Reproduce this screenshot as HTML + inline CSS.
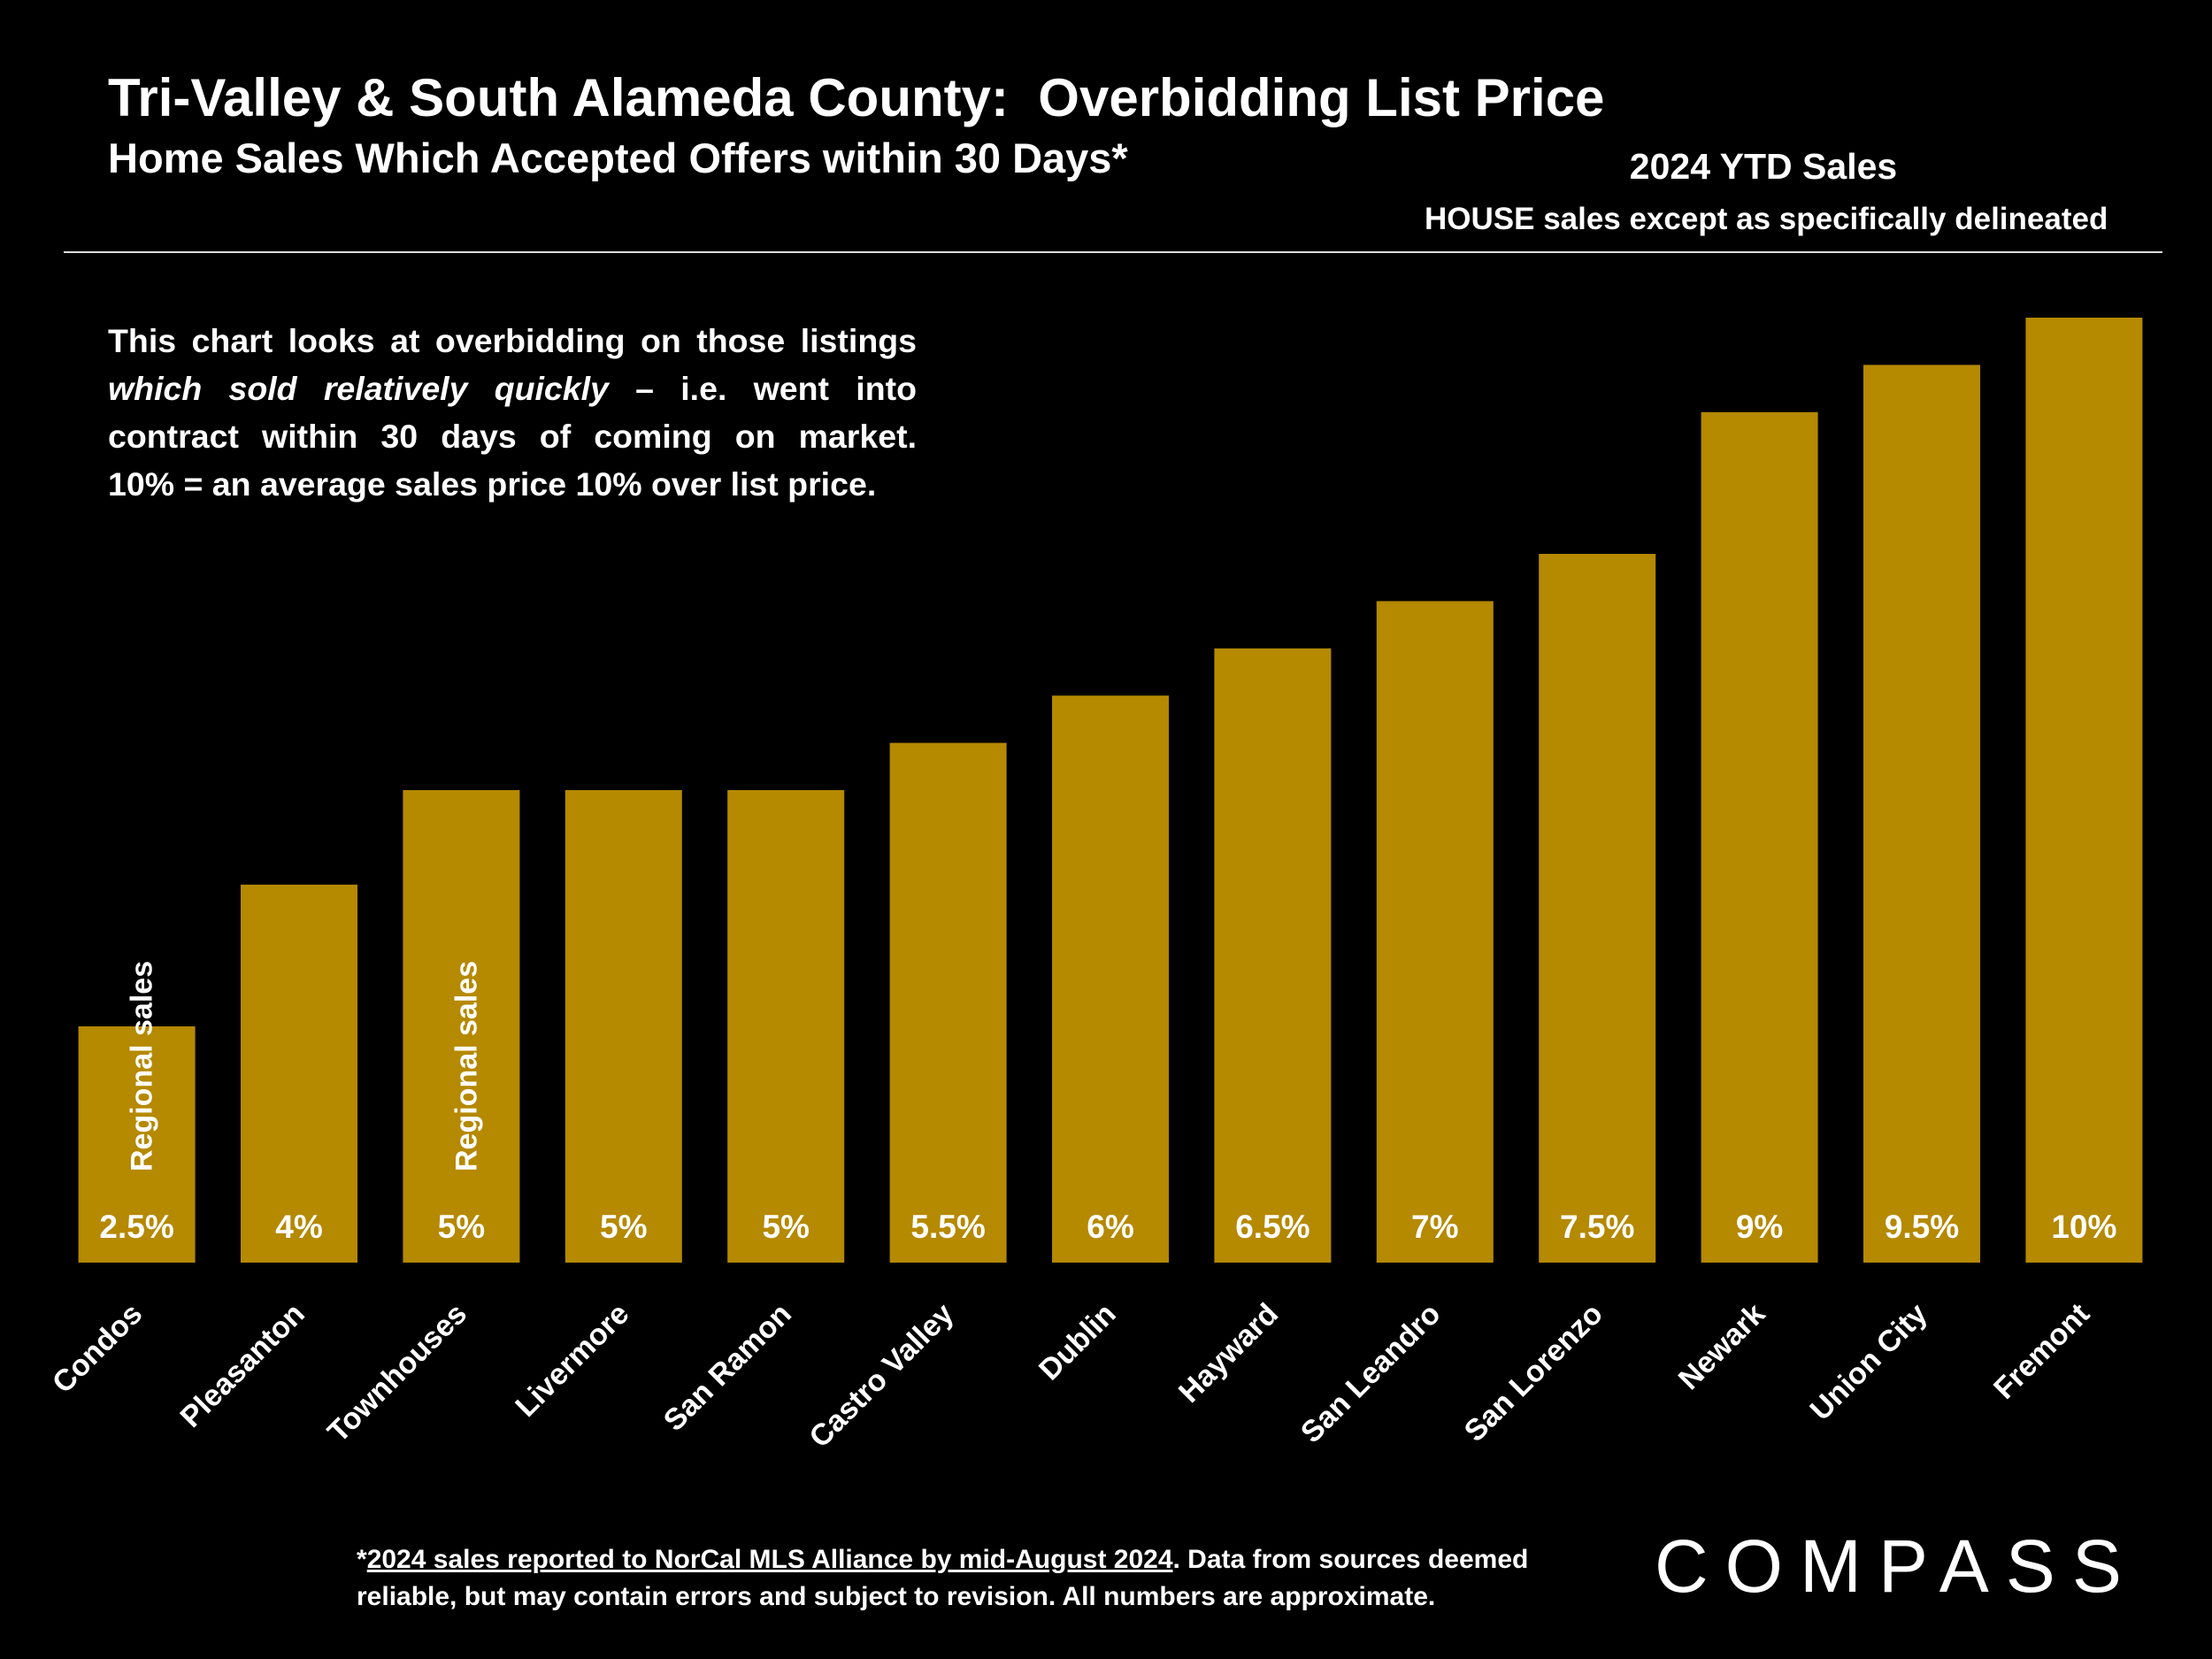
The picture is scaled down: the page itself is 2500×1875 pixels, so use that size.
<!DOCTYPE html>
<html><head><meta charset="utf-8"><style>
html,body{margin:0;padding:0;background:#000;}
body{width:2500px;height:1875px;overflow:hidden;position:relative;font-family:"Liberation Sans",sans-serif;color:#fff;}
.t{position:absolute;font-weight:bold;white-space:nowrap;}
.jl{text-align:justify;text-align-last:justify;white-space:nowrap;}
</style></head><body>
<div class="t" style="left:122px;top:76px;font-size:60px;">Tri-Valley &amp; South Alameda County:&nbsp; Overbidding List Price</div>
<div class="t" style="left:122px;top:151px;font-size:47px;">Home Sales Which Accepted Offers within 30 Days*</div>
<div class="t" style="left:1793px;width:400px;text-align:center;top:165px;font-size:41px;">2024 YTD Sales</div>
<div class="t" style="left:1610px;top:228px;font-size:35px;">HOUSE sales except as specifically delineated</div>
<div style="position:absolute;left:72px;top:284px;width:2372px;height:2px;background:#ddd;"></div>
<div style="position:absolute;left:122px;top:358px;width:914px;font-size:37.5px;line-height:54px;font-weight:bold;">
<div class="jl">This chart looks at overbidding on those listings</div>
<div class="jl"><i>which sold relatively quickly</i> – i.e. went into</div>
<div class="jl">contract within 30 days of coming on market.</div>
<div style="white-space:nowrap;">10% = an average sales price 10% over list price.</div>
</div>
<svg id="chart" width="2500" height="1875" style="position:absolute;left:0;top:0;"></svg>
<div style="position:absolute;left:403px;top:1742px;font-size:30px;line-height:42px;font-weight:bold;">*<u>2024 sales reported to NorCal MLS Alliance by mid-August 2024</u>. Data from sources deemed<br>reliable, but may contain errors and subject to revision. All numbers are approximate.</div>
<div style="position:absolute;left:1870px;top:1722px;font-size:84px;letter-spacing:19px;font-weight:normal;">COMPASS</div>
<script>
const categories=["Condos","Pleasanton","Townhouses","Livermore","San Ramon","Castro Valley","Dublin","Hayward","San Leandro","San Lorenzo","Newark","Union City","Fremont"];
const values=[2.5,4,5,5,5,5.5,6,6.5,7,7.5,9,9.5,10];
const valueLabels=["2.5%","4%","5%","5%","5%","5.5%","6%","6.5%","7%","7.5%","9%","9.5%","10%"];
const regional=[true,false,true,false,false,false,false,false,false,false,false,false,false];
const svg=document.getElementById('chart');
const NS='http://www.w3.org/2000/svg';
const base=1427, pxPer=106.8, x0=154.6, step=183.4, bw=132;
const y=v=>base-v*pxPer;
const xc=i=>x0+i*step;
function mk(t,a){const e=document.createElementNS(NS,t);for(const k in a)e.setAttribute(k,a[k]);svg.appendChild(e);return e;}
values.forEach((v,i)=>{
  const r=mk('rect',{x:xc(i)-bw/2,y:y(v),width:bw,height:base-y(v),fill:'#b58900'});
  
  
  const t=mk('text',{x:xc(i),y:base-28,'text-anchor':'middle','font-size':37,'font-weight':'bold',fill:'#fff','font-family':'Liberation Sans, sans-serif'});
  t.textContent=valueLabels[i];
  
  
  const c=mk('text',{x:0,y:0,'text-anchor':'end','font-size':34,'font-weight':'bold',fill:'#fff','font-family':'Liberation Sans, sans-serif',transform:`translate(${xc(i)+8},${base+60}) rotate(-45)`});
  c.textContent=categories[i];
  
  
  if(regional[i]){
    const g=mk('text',{x:0,y:0,'text-anchor':'start','font-size':34,'font-weight':'bold',fill:'#fff','font-family':'Liberation Sans, sans-serif',transform:`translate(${xc(i)+17},${base-103}) rotate(-90)`});
    g.textContent='Regional sales';
    
    
  }
});
</script>
</body></html>
